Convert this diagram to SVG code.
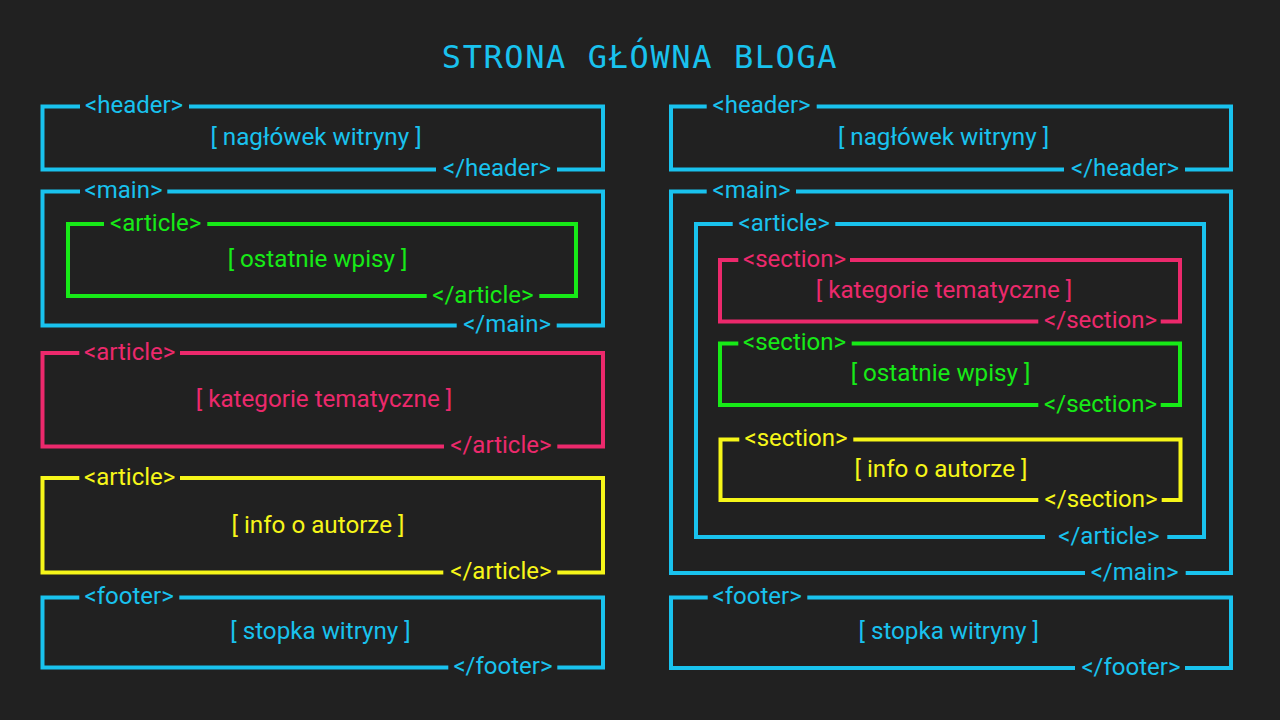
<svg xmlns="http://www.w3.org/2000/svg" width="1280" height="720" viewBox="0 0 1280 720">
  <style>
    .bx { fill: none; stroke-width: 4; stroke-linecap: butt; stroke-linejoin: miter; }
    .blue { stroke: #19c2ee; }
    .red { stroke: #ec296c; }
    .green { stroke: #17ea17; }
    .yellow { stroke: #f6f619; }
    .tb { fill: #19c2ee; }
    .tr { fill: #ec296c; }
    .tg { fill: #17ea17; }
    .ty { fill: #f6f619; }
    .tag { font-family: Roboto, "Liberation Sans", sans-serif; font-size: 24px; }
    .end { text-anchor: end; }
    .txt { font-family: Roboto, "Liberation Sans", sans-serif; font-size: 24.2px; text-anchor: middle; }
    .title { font-family: "DejaVu Sans Mono", "Liberation Mono", monospace; font-size: 32px; letter-spacing: 1.6px; text-anchor: middle; fill: #19c2ee; }
  </style>
  <rect width="1280" height="720" fill="#212121"/>

  <text class="title" x="640" y="68">STRONA GŁÓWNA BLOGA</text>

  <!-- LEFT COLUMN -->
  <g id="l-header">
    <path class="bx blue" d="M80 106.5 H42.5 V169.5 H436 M557 169.5 H603 V106.5 H189"/>
    <text class="tag tb" x="85" y="113">&lt;header&gt;</text>
    <text class="txt tb" x="316" y="145">[ nagłówek witryny ]</text>
    <text class="tag tb end" x="551" y="176">&lt;/header&gt;</text>
  </g>

  <g id="l-main">
    <path class="bx blue" d="M80 191.5 H42.5 V325.5 H456.7 M556.7 325.5 H603 V191.5 H167.3"/>
    <text class="tag tb" x="84.5" y="198">&lt;main&gt;</text>
    <text class="tag tb end" x="551" y="332">&lt;/main&gt;</text>
    <g id="l-main-article">
      <path class="bx green" d="M104 224 H68 V296 H426.7 M539.3 296 H576 V224 H207.3"/>
      <text class="tag tg" x="110" y="230.5">&lt;article&gt;</text>
      <text class="txt tg" x="317.5" y="267">[ ostatnie wpisy ]</text>
      <text class="tag tg end" x="533.5" y="302.5">&lt;/article&gt;</text>
    </g>
  </g>

  <g id="l-article-kategorie">
    <path class="bx red" d="M79.3 353 H42.5 V446.5 H444 M557.3 446.5 H603 V353 H180"/>
    <text class="tag tr" x="84" y="359.5">&lt;article&gt;</text>
    <text class="txt tr" x="324" y="406.5">[ kategorie tematyczne ]</text>
    <text class="tag tr end" x="551.5" y="453">&lt;/article&gt;</text>
  </g>

  <g id="l-article-autor">
    <path class="bx yellow" d="M79.3 478 H42.5 V572.5 H443.3 M557.3 572.5 H603 V478 H180"/>
    <text class="tag ty" x="84" y="484.5">&lt;article&gt;</text>
    <text class="txt ty" x="318" y="532.5">[ info o autorze ]</text>
    <text class="tag ty end" x="551.5" y="579">&lt;/article&gt;</text>
  </g>

  <g id="l-footer">
    <path class="bx blue" d="M79.3 597.5 H42.5 V667.5 H448.3 M557.3 667.5 H603 V597.5 H179.3"/>
    <text class="tag tb" x="84.5" y="604">&lt;footer&gt;</text>
    <text class="txt tb" x="320.5" y="638.5">[ stopka witryny ]</text>
    <text class="tag tb end" x="552.5" y="674">&lt;/footer&gt;</text>
  </g>

  <!-- RIGHT COLUMN -->
  <g id="r-header">
    <path class="bx blue" d="M706.7 106.5 H671 V169.5 H1064 M1185 169.5 H1231 V106.5 H816.7"/>
    <text class="tag tb" x="712.5" y="113">&lt;header&gt;</text>
    <text class="txt tb" x="943.5" y="145">[ nagłówek witryny ]</text>
    <text class="tag tb end" x="1179" y="176">&lt;/header&gt;</text>
  </g>

  <g id="r-main">
    <path class="bx blue" d="M706.7 191.5 H671 V573 H1085 M1185.7 573 H1231 V191.5 H796"/>
    <text class="tag tb" x="712.5" y="198">&lt;main&gt;</text>
    <text class="tag tb end" x="1178.5" y="579.5">&lt;/main&gt;</text>

    <g id="r-article">
      <path class="bx blue" d="M732.7 224 H696 V537 H1045 M1167.3 537 H1204 V224 H835.3"/>
      <text class="tag tb" x="738.5" y="230.5">&lt;article&gt;</text>
      <text class="tag tb end" x="1159.5" y="543.5">&lt;/article&gt;</text>

      <g id="r-section-kategorie">
        <path class="bx red" d="M738.3 260 H720 V321.5 H1038.3 M1160.7 321.5 H1180 V260 H850"/>
        <text class="tag tr" x="743" y="266.5">&lt;section&gt;</text>
        <text class="txt tr" x="944" y="298">[ kategorie tematyczne ]</text>
        <text class="tag tr end" x="1157" y="328">&lt;/section&gt;</text>
      </g>

      <g id="r-section-wpisy">
        <path class="bx green" d="M738.3 343.5 H720 V405 H1038.3 M1160.7 405 H1180 V343.5 H851.7"/>
        <text class="tag tg" x="743" y="350">&lt;section&gt;</text>
        <text class="txt tg" x="940.5" y="381">[ ostatnie wpisy ]</text>
        <text class="tag tg end" x="1157" y="411.5">&lt;/section&gt;</text>
      </g>

      <g id="r-section-autor">
        <path class="bx yellow" d="M739.3 439.5 H720.5 V500 H1038.3 M1161.7 500 H1180.5 V439.5 H853.3"/>
        <text class="tag ty" x="744.5" y="446">&lt;section&gt;</text>
        <text class="txt ty" x="941" y="476.5">[ info o autorze ]</text>
        <text class="tag ty end" x="1157.5" y="506.5">&lt;/section&gt;</text>
      </g>
    </g>
  </g>

  <g id="r-footer">
    <path class="bx blue" d="M707.7 597.5 H671 V668 H1075 M1185 668 H1231 V597.5 H807.3"/>
    <text class="tag tb" x="712.5" y="604">&lt;footer&gt;</text>
    <text class="txt tb" x="948.7" y="638.5">[ stopka witryny ]</text>
    <text class="tag tb end" x="1180.5" y="674.5">&lt;/footer&gt;</text>
  </g>
</svg>
